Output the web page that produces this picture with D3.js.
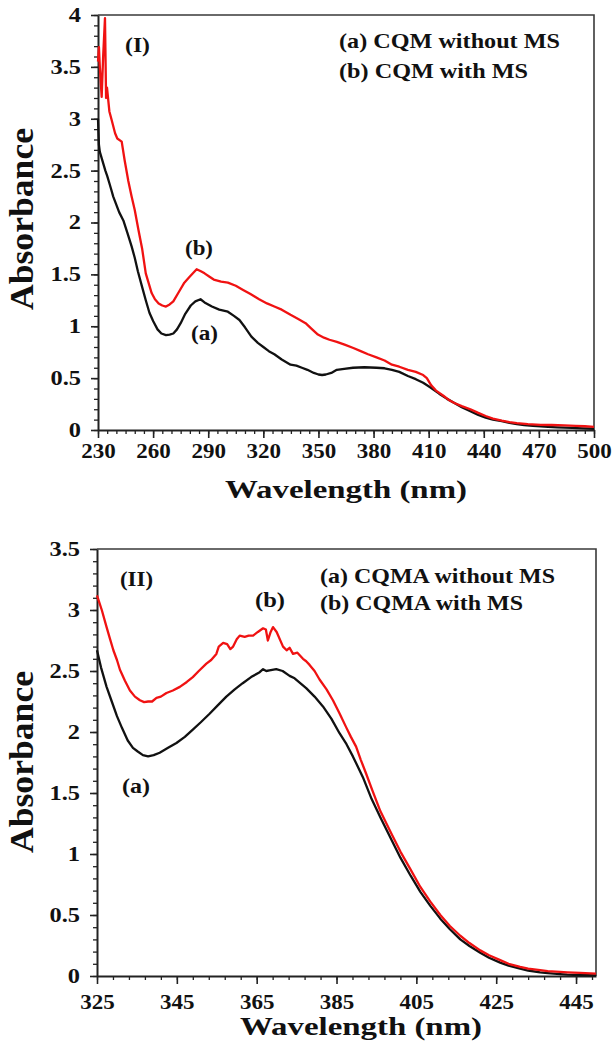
<!DOCTYPE html>
<html>
<head>
<meta charset="utf-8">
<script src="https://cdn.jsdelivr.net/npm/d3@7"></script>
<style>
  html, body { margin: 0; padding: 0; background: #fff; }
  svg { display: block; }
  text { font-family: "Liberation Serif", "Times New Roman", serif; font-weight: bold; fill: #111; }
</style>
</head>
<body>
<svg id="fig" width="614" height="1057"></svg>
<script>
// ---------- Panel (I): CQM ----------
const cqmNoMsNm = [230, 230.5, 231, 232, 233, 234, 235, 236, 237, 238.3, 240, 241.5, 243.8, 246, 248.3, 250, 251.7, 254, 256, 258, 260, 262.4, 264.5, 267, 269, 271, 273, 275, 277.5, 280.5, 283, 285.8, 288, 292, 296, 300.7, 304, 307, 310, 313.5, 317, 320, 323, 326, 330, 334.8, 338, 341, 344, 347.5, 350, 352, 354, 357, 360, 364, 368.8, 375, 381.6, 386, 390, 394, 398.7, 403, 407, 411, 415.7, 420, 424, 428, 432.7, 437, 441, 445, 449.8, 454, 458, 462, 466.8, 471, 475, 480, 488, 494, 500];
const cqmNoMsAbs = [3.0, 2.75, 2.68, 2.62, 2.56, 2.5, 2.45, 2.39, 2.33, 2.25, 2.17, 2.1, 2.02, 1.9, 1.77, 1.66, 1.53, 1.38, 1.25, 1.13, 1.05, 0.97, 0.93, 0.915, 0.92, 0.93, 0.97, 1.03, 1.12, 1.2, 1.24, 1.26, 1.23, 1.19, 1.16, 1.14, 1.1, 1.06, 0.99, 0.9, 0.84, 0.8, 0.76, 0.73, 0.68, 0.63, 0.62, 0.6, 0.58, 0.55, 0.535, 0.53, 0.535, 0.55, 0.58, 0.59, 0.6, 0.605, 0.6, 0.595, 0.58, 0.56, 0.52, 0.49, 0.455, 0.41, 0.35, 0.3, 0.26, 0.22, 0.18, 0.145, 0.12, 0.1, 0.085, 0.068, 0.056, 0.047, 0.04, 0.034, 0.03, 0.026, 0.02, 0.016, 0.012];

const cqmMsNm = [230, 230.5, 231, 232, 232.8, 233.8, 234.4, 234.9, 236.2, 237.4, 239.3, 240.5, 242.9, 244.5, 246.5, 248.3, 250, 252, 254, 256, 257.5, 259.2, 261, 263, 265, 267, 269, 271, 274, 277, 280, 283.7, 286, 288, 290.5, 293, 297, 300.7, 305, 309, 313, 317.7, 322, 326, 330, 334.8, 339, 343, 346, 349.7, 353, 356, 360, 364.6, 369, 373, 377, 381.6, 386, 390, 394, 398.7, 403, 407, 409, 411.4, 414, 418, 421, 424, 428, 432.7, 437, 441, 445, 449.8, 454, 458, 464, 471, 477, 483.8, 490, 495, 500];
const cqmMsAbs = [3.55, 3.69, 3.5, 3.21, 3.6, 3.97, 3.2, 3.3, 3.07, 2.99, 2.86, 2.81, 2.78, 2.6, 2.4, 2.25, 2.12, 1.93, 1.75, 1.51, 1.42, 1.32, 1.26, 1.22, 1.2, 1.19, 1.21, 1.24, 1.33, 1.42, 1.48, 1.55, 1.53, 1.51, 1.48, 1.45, 1.43, 1.42, 1.39, 1.35, 1.31, 1.26, 1.22, 1.19, 1.16, 1.11, 1.07, 1.03, 0.98, 0.92, 0.89, 0.87, 0.85, 0.82, 0.79, 0.76, 0.73, 0.7, 0.67, 0.63, 0.61, 0.58, 0.56, 0.53, 0.5, 0.43, 0.38, 0.33, 0.29, 0.26, 0.23, 0.2, 0.165, 0.135, 0.11, 0.09, 0.076, 0.066, 0.057, 0.05, 0.048, 0.045, 0.04, 0.036, 0.03];

const ticksXI = [230, 260, 290, 320, 350, 380, 410, 440, 470, 500];
const ticksYI = [0, 0.5, 1, 1.5, 2, 2.5, 3, 3.5, 4];
const legendI = ["(a) CQM without MS", "(b) CQM with MS"];

// ---------- Panel (II): CQMA ----------
const cqmaNoMsNm = [325, 326, 327.4, 328.7, 330, 331.3, 332.7, 334, 335.2, 336.5, 337.8, 339.2, 340.7, 342.8, 344.9, 347, 349, 351, 353.2, 355.3, 357.4, 359.5, 361.5, 363.6, 365.75, 366.6, 367.4, 368.2, 369.9, 371.5, 373.25, 374.5, 377.4, 379.5, 381.6, 383.7, 385.75, 387.5, 389.1, 391.6, 393.8, 396, 398.7, 401, 403.6, 406, 408.5, 411, 413.4, 416, 418.3, 421, 423.2, 426, 428.1, 431, 433, 436, 437.9, 441, 442.8, 446, 450];
const cqmaNoMsAbs = [2.67, 2.53, 2.37, 2.25, 2.13, 2.03, 1.93, 1.87, 1.84, 1.81, 1.8, 1.81, 1.83, 1.87, 1.91, 1.96, 2.02, 2.08, 2.15, 2.22, 2.29, 2.35, 2.4, 2.45, 2.49, 2.515, 2.5, 2.505, 2.515, 2.5, 2.46, 2.44, 2.36, 2.29, 2.21, 2.11, 1.99, 1.9, 1.8, 1.63, 1.45, 1.3, 1.12, 0.97, 0.82, 0.69, 0.575, 0.47, 0.383, 0.3, 0.246, 0.19, 0.15, 0.11, 0.085, 0.06, 0.045, 0.03, 0.024, 0.016, 0.012, 0.008, 0.005];

const cqmaMsNm = [325, 326.2, 327.4, 328.2, 329.1, 330, 330.75, 332, 333.25, 334.5, 335.75, 336.8, 337.8, 338.8, 339.9, 341, 342.4, 344, 345.75, 347.5, 349, 350.5, 352.4, 353.6, 354.9, 355.5, 356.6, 357.6, 358.4, 359.1, 360, 360.75, 362, 363, 364.1, 365.3, 366.6, 367.3, 367.8, 368.5, 369.1, 370, 371.6, 372.5, 373.25, 374.1, 375.2, 376.6, 377.4, 378.25, 379.5, 380.75, 382.5, 384.1, 385.8, 387.4, 388.6, 389.9, 391.1, 392.4, 394, 396, 398.7, 401, 403.6, 406, 408.5, 411, 413.4, 416, 418.3, 421, 423.2, 426, 428.1, 431, 433, 436, 437.9, 441, 442.8, 446, 450];
const cqmaMsAbs = [3.12, 3.0, 2.86, 2.77, 2.67, 2.59, 2.51, 2.42, 2.34, 2.29, 2.26, 2.245, 2.25, 2.25, 2.28, 2.29, 2.32, 2.34, 2.37, 2.41, 2.45, 2.5, 2.56, 2.59, 2.64, 2.7, 2.73, 2.72, 2.68, 2.7, 2.76, 2.79, 2.78, 2.79, 2.79, 2.82, 2.85, 2.84, 2.75, 2.82, 2.86, 2.82, 2.7, 2.67, 2.69, 2.64, 2.65, 2.6, 2.58, 2.55, 2.5, 2.43, 2.35, 2.26, 2.15, 2.04, 1.96, 1.88, 1.77, 1.66, 1.52, 1.35, 1.17, 1.02, 0.87, 0.73, 0.61, 0.5, 0.41, 0.33, 0.27, 0.21, 0.17, 0.13, 0.1, 0.075, 0.06, 0.048, 0.04, 0.034, 0.03, 0.025, 0.02];

const ticksXII = [325, 345, 365, 385, 405, 425, 445];
const ticksYII = [0, 0.5, 1, 1.5, 2, 2.5, 3, 3.5];
const legendII = ["(a) CQMA without MS", "(b) CQMA with MS"];

const RED = "#f01212";
const BLACK = "#111111";

const svg = d3.select("#fig");

// Squeeze or widen a text element to a given advance width
function fitWidth(sel, w) {
  sel.attr("textLength", w).attr("lengthAdjust", "spacingAndGlyphs");
}
function widen(sel, k) {
  sel.each(function () {
    const w = this.getComputedTextLength();
    this.setAttribute("textLength", w * k);
    this.setAttribute("lengthAdjust", "spacingAndGlyphs");
  });
}
function label(g, str, x, y, size, width, anchor) {
  const t = g.append("text").attr("x", x).attr("y", y)
    .attr("font-size", size).attr("text-anchor", anchor || "start").text(str);
  if (width) fitWidth(t, width);
  return t;
}

function panel(cfg) {
  const g = svg.append("g");
  const x = d3.scaleLinear().domain(cfg.xDomain).range([cfg.left, cfg.right]);
  const y = d3.scaleLinear().domain(cfg.yDomain).range([cfg.bottom, cfg.top]);

  // frame: top and right edges
  g.append("path")
    .attr("d", `M${cfg.left},${cfg.top}H${cfg.right}V${cfg.bottom}`)
    .attr("fill", "none").attr("stroke", "#3a3a3a").attr("stroke-width", 1.6);

  // minor ticks
  g.append("g").attr("transform", `translate(0,${cfg.bottom})`)
    .call(d3.axisBottom(x).tickValues(cfg.minorX).tickSize(4).tickSizeOuter(0).tickFormat(""))
    .call(s => s.select(".domain").remove())
    .selectAll("line").attr("stroke", "#222").attr("stroke-width", 1.3);
  g.append("g").attr("transform", `translate(${cfg.left},0)`)
    .call(d3.axisLeft(y).tickValues(cfg.minorY).tickSize(4).tickSizeOuter(0).tickFormat(""))
    .call(s => s.select(".domain").remove())
    .selectAll("line").attr("stroke", "#222").attr("stroke-width", 1.3);

  // major ticks + labels
  const ax = g.append("g").attr("transform", `translate(0,${cfg.bottom})`)
    .call(d3.axisBottom(x).tickValues(cfg.ticksX).tickSize(8).tickSizeOuter(0).tickFormat(d3.format("d")));
  ax.select(".domain").attr("stroke", "#222").attr("stroke-width", 2);
  ax.selectAll("line").attr("stroke", "#222").attr("stroke-width", 1.6);
  ax.selectAll("text").attr("font-size", 20).attr("fill", "#111")
    .attr("dy", null).attr("y", cfg.xLabelOffset)
    .attr("font-family", null).call(widen, 1.15);

  const ay = g.append("g").attr("transform", `translate(${cfg.left},0)`)
    .call(d3.axisLeft(y).tickValues(cfg.ticksY).tickSize(7).tickPadding(10).tickSizeOuter(0).tickFormat(d => String(d)));
  ay.select(".domain").attr("stroke", "#222").attr("stroke-width", 2);
  ay.selectAll("line").attr("stroke", "#222").attr("stroke-width", 1.6);
  ay.selectAll("text").attr("font-size", 20).attr("fill", "#111")
    .attr("font-family", null).call(widen, 1.22);

  // spectra
  const line = d3.line().x(d => x(d[0])).y(d => y(d[1]));
  cfg.series.forEach(s => {
    g.append("path")
      .datum(s.nm.map((v, i) => [v, s.abs[i]]))
      .attr("d", line)
      .attr("fill", "none")
      .attr("stroke", s.color)
      .attr("stroke-width", 2.3)
      .attr("stroke-linejoin", "round");
  });

  // axis titles
  label(g, "Wavelength (nm)", cfg.xTitle[0], cfg.xTitle[1], 26, 242, "middle");
  const yt = g.append("text")
    .attr("transform", `translate(${cfg.yTitle[0]},${cfg.yTitle[1]}) rotate(-90)`)
    .attr("text-anchor", "middle").attr("font-size", 34).text("Absorbance");
  fitWidth(yt, 182);

  return g;
}

const d3range = (a, b, s) => d3.range(a, b + s / 2, s).map(v => +v.toFixed(3));

const gI = panel({
  left: 98, right: 594, top: 15, bottom: 430,
  xDomain: [230, 500], yDomain: [0, 4],
  ticksX: ticksXI, ticksY: ticksYI,
  minorX: d3range(230, 500, 5), minorY: d3range(0, 4, 0.1),
  xLabelOffset: 28,
  xTitle: [346, 498], yTitle: [33, 219],
  series: [
    { nm: cqmNoMsNm, abs: cqmNoMsAbs, color: BLACK },
    { nm: cqmMsNm, abs: cqmMsAbs, color: RED }
  ]
});
label(gI, "(I)", 125, 52, 20, 25);
label(gI, legendI[0], 339, 48, 21, 221);
label(gI, legendI[1], 339, 78, 21, 189);
label(gI, "(b)", 185, 255, 20, 28);
label(gI, "(a)", 191, 340, 20, 27);

const gII = panel({
  left: 97, right: 596, top: 549, bottom: 976,
  xDomain: [325, 450], yDomain: [0, 3.5],
  ticksX: ticksXII, ticksY: ticksYII,
  minorX: d3range(325, 449, 4), minorY: d3range(0, 3.5, 0.1),
  xLabelOffset: 33,
  xTitle: [361, 1035], yTitle: [33, 762],
  series: [
    { nm: cqmaNoMsNm, abs: cqmaNoMsAbs, color: BLACK },
    { nm: cqmaMsNm, abs: cqmaMsAbs, color: RED }
  ]
});
label(gII, "(II)", 120, 586, 20, 33);
label(gII, legendII[0], 320, 583, 21, 235);
label(gII, legendII[1], 320, 610, 21, 203);
label(gII, "(b)", 255, 607, 20, 30);
label(gII, "(a)", 122, 793, 20, 28);
</script>
</body>
</html>
